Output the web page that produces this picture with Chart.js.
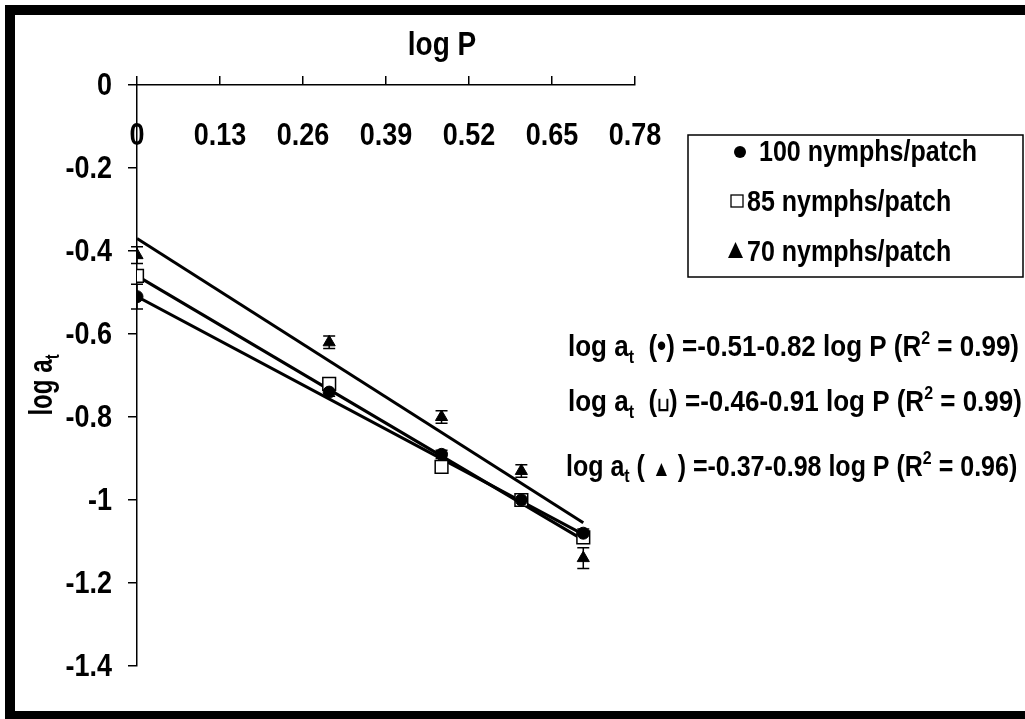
<!DOCTYPE html>
<html>
<head>
<meta charset="utf-8">
<script src="https://cdn.jsdelivr.net/npm/chart.js@4.4.0/dist/chart.umd.min.js"></script>
<style>
html, body { margin: 0; padding: 0; background: #fff; overflow: hidden; }
#wrap { position: absolute; left: 0; top: 0; width: 1025px; height: 719px; }
#frame { position: absolute; left: 5px; top: 5px; width: 1100px; height: 716px; border: 10px solid #000; box-sizing: border-box; pointer-events: none; }
</style>
</head>
<body>
<div id="wrap"><canvas id="myChart" width="1025" height="719"></canvas></div>
<div id="frame"></div>
<script>
// data
var logP = [0, 0.301, 0.477, 0.602, 0.699];
var nymphs100 = [-0.51, -0.74, -0.89, -1.00, -1.08];
var nymphs85 = [-0.46, -0.72, -0.92, -1.00, -1.09];
var nymphs70 = [-0.41, -0.62, -0.80, -0.93, -1.14];
var err100 = [0.03, 0.01, 0.01, 0.01, 0.01];
var err85 = [0, 0, 0, 0, 0];
var err70 = [0.02, 0.015, 0.015, 0.015, 0.025];

// fitted lines, end points
var fitX = [0, 0.699];
var fit100 = [-0.51, -1.083];
var fit85 = [-0.46, -1.096];
var fit70 = [-0.37, -1.055];

var xTicks = [0, 0.13, 0.26, 0.39, 0.52, 0.65, 0.78];
var xTickLabels = ['0', '0.13', '0.26', '0.39', '0.52', '0.65', '0.78'];
var yTicks = [0, -0.2, -0.4, -0.6, -0.8, -1, -1.2, -1.4];
var yTickLabels = ['0', '-0.2', '-0.4', '-0.6', '-0.8', '-1', '-1.2', '-1.4'];

var seriesNames = ['100 nymphs/patch', '85 nymphs/patch', '70 nymphs/patch'];
var equations = [
    [['log a', ''], ['t', 'sub'], ['  (', ''], ['\u2022', ''], [') =-0.51-0.82 log P (R', ''], ['2', 'sup'], [' = 0.99)', '']],
    [['log a', ''], ['t', 'sub'], ['  (', ''], ['\u2294', 'small'], [') =-0.46-0.91 log P (R', ''], ['2', 'sup'], [' = 0.99)', '']],
    [['log a', ''], ['t', 'sub'], [' ( ', ''], ['\u25B2', 'mid'], [' ) =-0.37-0.98 log P (R', ''], ['2', 'sup'], [' = 0.96)', '']]
];

var FONT = '"Liberation Sans", Arial, sans-serif';
var STRETCH = 1.16; // text in the picture is a bit taller than Arial

function pts(xs, ys) {
    return xs.map(function(x, i){ return {x: x, y: ys[i]}; });
}

function segSize(s, size) {
    if (s[1] === 'sub' || s[1] === 'sup') return Math.round(size * 0.62);
    if (s[1] === 'small') return Math.round(size * 0.6);
    if (s[1] === 'mid') return Math.round(size * 0.75);
    return size;
}
function segWidth(ctx, segs, size) {
    var w = 0;
    segs.forEach(function(s){
        ctx.font = 'bold ' + segSize(s, size) + 'px ' + FONT;
        w += ctx.measureText(s[0]).width;
    });
    return w;
}
function drawSegments(ctx, segs, x, y, size) {
    ctx.save();
    ctx.translate(x, y);
    ctx.scale(1, STRETCH);
    var cx = 0;
    segs.forEach(function(s){
        var dy = 0;
        if (s[1] === 'sub') dy = size * 0.22;
        if (s[1] === 'sup') dy = -size * 0.4;
        ctx.font = 'bold ' + segSize(s, size) + 'px ' + FONT;
        ctx.fillText(s[0], cx, dy);
        cx += ctx.measureText(s[0]).width;
    });
    ctx.restore();
}
function drawText(ctx, text, x, y, size) {
    ctx.save();
    ctx.translate(x, y);
    ctx.scale(1, STRETCH);
    ctx.font = 'bold ' + size + 'px ' + FONT;
    ctx.fillText(text, 0, 0);
    ctx.restore();
}

var errorBars = {
    id: 'errorBars',
    beforeDatasetsDraw: function(chart){
        var c = chart.ctx, xs = chart.scales.x, ys = chart.scales.y;
        var sets = [[nymphs100, err100], [nymphs85, err85], [nymphs70, err70]];
        c.save();
        c.strokeStyle = '#000';
        c.lineWidth = 1.5;
        sets.forEach(function(s){
            logP.forEach(function(x, i){
                var e = s[1][i];
                if (!e) return;
                var px = xs.getPixelForValue(x);
                var y1 = ys.getPixelForValue(s[0][i] + e), y2 = ys.getPixelForValue(s[0][i] - e);
                c.beginPath();
                c.moveTo(px, y1); c.lineTo(px, y2);
                c.moveTo(px - 6, y1); c.lineTo(px + 6, y1);
                c.moveTo(px - 6, y2); c.lineTo(px + 6, y2);
                c.stroke();
            });
        });
        c.restore();
    }
};

var decorations = {
    id: 'decorations',
    afterDraw: function(chart){
        var c = chart.ctx, xs = chart.scales.x, ys = chart.scales.y;
        c.save();
        c.fillStyle = '#000';

        // tick labels
        c.textAlign = 'center';
        c.textBaseline = 'middle';
        xTicks.forEach(function(v, i){
            drawText(c, xTickLabels[i], xs.getPixelForValue(v), 136, 27);
        });
        c.textAlign = 'right';
        yTicks.forEach(function(v, i){
            drawText(c, yTickLabels[i], 112, ys.getPixelForValue(v) + 1, 27);
        });

        // axis titles
        c.textAlign = 'center';
        drawText(c, 'log P', 442, 46, 28);

        c.textAlign = 'left';
        c.textBaseline = 'alphabetic';
        var yTitle = [['log a', ''], ['t', 'sub']];
        c.save();
        c.translate(52, 385);
        c.rotate(-Math.PI / 2);
        c.scale(1 / STRETCH, 1);
        drawSegments(c, yTitle, -segWidth(c, yTitle, 28) / 2, 0, 28);
        c.restore();

        // legend box
        c.strokeStyle = '#000';
        c.lineWidth = 1.5;
        c.strokeRect(688, 135, 335, 142);
        var rows = [161, 211, 261];
        drawText(c, seriesNames[0], 759, rows[0], 25);
        drawText(c, seriesNames[1], 747, rows[1], 25);
        drawText(c, seriesNames[2], 747, rows[2], 25);
        c.beginPath();
        c.arc(740, rows[0] - 9, 6, 0, Math.PI * 2);
        c.fill();
        c.lineWidth = 1.3;
        c.strokeRect(731, rows[1] - 16, 12, 12);
        c.beginPath();
        c.moveTo(735.5, rows[2] - 19);
        c.lineTo(743, rows[2] - 3);
        c.lineTo(728, rows[2] - 3);
        c.closePath();
        c.fill();

        // regression equations
        var base = [356, 411, 476];
        var ex = [568, 568, 566];
        var sz = [26, 26, 25];
        equations.forEach(function(eq, i){
            drawSegments(c, eq, ex[i], base[i], sz[i]);
        });
        c.restore();
    }
};

var ctx = document.getElementById('myChart').getContext('2d');
var myChart = new Chart(ctx, {
    type: 'scatter',
    data: {
        datasets: [
            { label: seriesNames[0], data: pts(logP, nymphs100), pointStyle: 'circle', pointRadius: 6,
              backgroundColor: '#000', borderColor: '#000', borderWidth: 1, order: 1 },
            { label: seriesNames[1], data: pts(logP, nymphs85), pointStyle: 'rect', pointRadius: 9,
              backgroundColor: '#fff', borderColor: '#000', borderWidth: 1.5, order: 2 },
            { label: seriesNames[2], data: pts(logP, nymphs70), pointStyle: 'triangle', pointRadius: 7,
              backgroundColor: '#000', borderColor: '#000', borderWidth: 1, order: 0 },
            { type: 'line', data: pts(fitX, fit100), borderColor: '#000', borderWidth: 3, pointRadius: 0, fill: false, order: 10 },
            { type: 'line', data: pts(fitX, fit85), borderColor: '#000', borderWidth: 3, pointRadius: 0, fill: false, order: 10 },
            { type: 'line', data: pts(fitX, fit70), borderColor: '#000', borderWidth: 3, pointRadius: 0, fill: false, order: 10 }
        ]
    },
    options: {
        responsive: false,
        animation: false,
        layout: { padding: { left: 0, top: 0, right: 390, bottom: 53 } },
        plugins: { legend: { display: false }, tooltip: { enabled: false } },
        scales: {
            x: {
                type: 'linear', position: 'top', min: 0, max: 0.78,
                afterBuildTicks: function(s){ s.ticks = xTicks.map(function(v){ return {value: v}; }); },
                afterFit: function(s){ s.height = 85; },
                ticks: { color: 'rgba(0,0,0,0)', autoSkip: false, font: { size: 12 } },
                grid: { drawOnChartArea: false, tickLength: 9, color: '#000', lineWidth: 1.5 },
                border: { color: '#000', width: 1.5 }
            },
            y: {
                type: 'linear', min: -1.4, max: 0,
                afterBuildTicks: function(s){ s.ticks = yTicks.map(function(v){ return {value: v}; }); },
                afterFit: function(s){ s.width = 137; },
                ticks: { color: 'rgba(0,0,0,0)', autoSkip: false, font: { size: 12 } },
                grid: { drawOnChartArea: false, tickLength: 9, color: '#000', lineWidth: 1.5 },
                border: { color: '#000', width: 1.5 }
            }
        }
    },
    plugins: [errorBars, decorations]
});
</script>
</body>
</html>
